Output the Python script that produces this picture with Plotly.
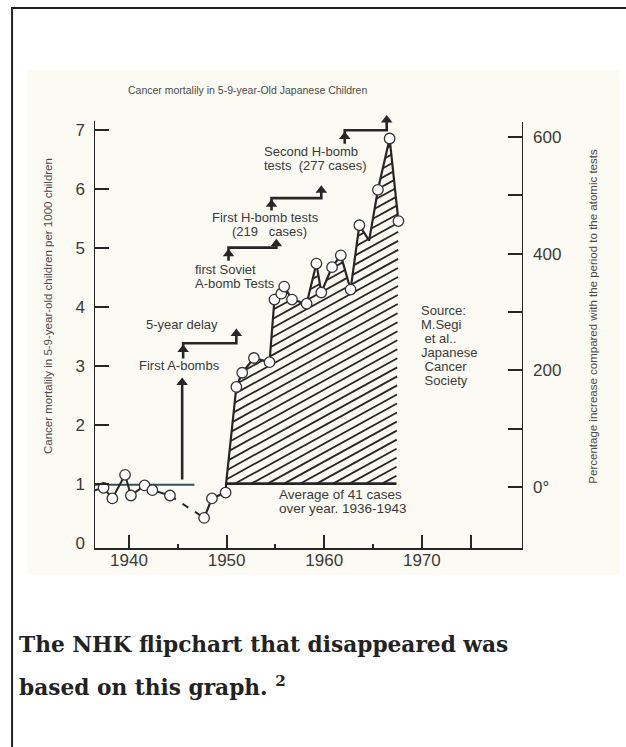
import plotly.graph_objects as go

# ---------------- data ----------------
years_pre = [1936.1, 1937.4, 1938.3, 1939.6, 1940.2, 1941.6, 1942.4, 1944.2]
rate_pre = [0.87, 0.93, 0.75, 1.15, 0.80, 0.97, 0.89, 0.80]

years_post = [1947.7, 1948.5, 1949.9, 1951.0, 1951.6, 1952.8, 1954.4, 1954.9, 1955.6,
              1955.9, 1956.7, 1958.2, 1959.2, 1959.7, 1960.8, 1961.7, 1962.7, 1963.6,
              1964.6, 1965.5, 1966.7, 1967.6]
rate_post = [0.42, 0.75, 0.85, 2.64, 2.88, 3.13, 3.06, 4.12, 4.22,
             4.34, 4.12, 4.05, 4.73, 4.24, 4.67, 4.87, 4.29, 5.38,
             5.12, 5.98, 6.85, 5.45]
marked_post = [True] * len(years_post)
marked_post[years_post.index(1964.6)] = False

baseline = 1.0            # average of 1936-1943
baseline_pre_end = 1946.7
hatch_start = 1949.95
hatch_end = 1967.4

# step arrows: (x_start, x_end, stem_bottom, level, tip)
step_arrows = [
    (1945.55, 1951.0, 3.12, 3.38, 3.65),
    (1950.2, 1955.1, 4.78, 5.00, 5.17),
    (1954.6, 1959.7, 5.63, 5.84, 6.08),
    (1962.1, 1966.4, 6.76, 6.99, 7.27),
]
abomb_arrow = (1945.45, 1.07, 2.82)

x_ticks = [1940, 1950, 1960, 1970, 1975]
x_labels = ["1940", "1950", "1960", "1970", ""]
x_minor = [1945, 1955, 1965]
y_labels = [0, 1, 2, 3, 4, 5, 6, 7]
y_tick_marks = [1, 2, 3, 4, 5, 6, 7]
pct_ticks = [0, 100, 200, 300, 400, 500, 600]
pct_labels = ["0°", "", "200", "", "400", "", "600"]
pct_zero = 0.94
pct_unit = 0.0099

source_lines = ["Source:", "M.Segi", "\u00a0et al..", "Japanese", "\u00a0Cancer", "\u00a0Society"]

# ---------------- layout geometry ----------------
W, H = 626, 747
L, R, T, B = 94, 523.3, 109, 548
XR = [1936.42, 1980.36]
YR = [-0.09, 7.35]
LEFT_TOP = 7.15
RIGHT_TOP = 7.13

def px(p):
    return (p - L) / (R - L)

def py(p):
    return (B - p) / (B - T)

INK = "#262626"
TXT = "#3a3a3a"
FONT = "Liberation Sans"

fig = go.Figure()

# ---------------- hatched area (lines clipped to the data polygon) ----------------
poly_x = [hatch_start] + years_post[3:] + [hatch_end]
poly_y = [baseline] + rate_post[3:] + [baseline]

def inside(x, y):
    n = len(poly_x)
    c = False
    j = n - 1
    for i in range(n):
        xi, yi, xj, yj = poly_x[i], poly_y[i], poly_x[j], poly_y[j]
        if (yi > y) != (yj > y):
            xc = xi + (y - yi) * (xj - xi) / (yj - yi)
            if x < xc:
                c = not c
        j = i
    return c

x_scale = (R - L) / (XR[1] - XR[0])      # px per year
y_scale = (B - T) / (YR[1] - YR[0])      # px per unit
slope_px = 0.55
spacing_px = 9.0
slope = slope_px * x_scale / y_scale     # units per year
spacing = spacing_px / y_scale
hxs, hys = [], []
step = 0.02
nx = int((max(poly_x) - hatch_start) / step) + 2
c = baseline - slope * (max(poly_x) - hatch_start)
while c < max(poly_y):
    run = None
    for k in range(nx + 1):
        x = hatch_start + k * step
        y = c + slope * (x - hatch_start)
        ins = inside(x, y)
        if ins and run is None:
            run = (x, y)
        if (not ins or k == nx) and run is not None:
            xe = x - step if not ins else x
            ye = c + slope * (xe - hatch_start)
            if xe > run[0]:
                hxs += [run[0], xe, None]
                hys += [run[1], ye, None]
            run = None
    c += spacing
fig.add_trace(go.Scatter(x=hxs, y=hys, mode="lines", line=dict(color=INK, width=1.8),
                         hoverinfo="skip", showlegend=False))

# baseline lines
fig.add_trace(go.Scatter(x=[XR[0], baseline_pre_end], y=[baseline - 0.02, baseline - 0.02],
                         mode="lines", line=dict(color="#34505e", width=2), showlegend=False))
fig.add_trace(go.Scatter(x=[hatch_start, hatch_end], y=[baseline, baseline],
                         mode="lines", line=dict(color=INK, width=2.8), showlegend=False))

# data lines
fig.add_trace(go.Scatter(x=years_pre, y=rate_pre, mode="lines",
                         line=dict(color=INK, width=2), showlegend=False))
fig.add_trace(go.Scatter(x=[years_pre[-1], years_post[0]], y=[rate_pre[-1], rate_post[0]],
                         mode="lines", line=dict(color=INK, width=2, dash="7px,8px"),
                         showlegend=False))
lx = years_post[:3] + [hatch_start] + years_post[3:]
ly = rate_post[:3] + [baseline] + rate_post[3:]
fig.add_trace(go.Scatter(x=lx, y=ly, mode="lines", line=dict(color=INK, width=2.2),
                         showlegend=False))

# arrows
arrow_line = dict(color=INK, width=2.6)
head_off = 0.105
heads_x, heads_y = [], []
ax0, ay0, ay1 = abomb_arrow
fig.add_trace(go.Scatter(x=[ax0, ax0], y=[ay0, ay1 - head_off], mode="lines",
                         line=arrow_line, showlegend=False))
heads_x.append(ax0); heads_y.append(ay1 - head_off)
for x0, x1, ys, yh, yt in step_arrows:
    fig.add_trace(go.Scatter(x=[x0, x0, x1, x1], y=[ys, yh, yh, yt - head_off],
                             mode="lines", line=arrow_line, showlegend=False))
    heads_x += [x0, x1]
    heads_y += [yh - head_off, yt - head_off]
fig.add_trace(go.Scatter(x=heads_x, y=heads_y, mode="markers",
                         marker=dict(symbol="triangle-up", size=10, color=INK,
                                     line=dict(width=0)),
                         showlegend=False, cliponaxis=False))

# markers
mx = years_pre + [x for x, m in zip(years_post, marked_post) if m]
my = rate_pre + [y for y, m in zip(rate_post, marked_post) if m]
fig.add_trace(go.Scatter(x=mx, y=my, mode="markers",
                         marker=dict(symbol="circle", size=10.5, color="white",
                                     line=dict(color="#333", width=1.3)),
                         showlegend=False, cliponaxis=False))

# invisible traces to activate the overlay axes
fig.add_trace(go.Scatter(x=[XR[0]], y=[0], yaxis="y2", mode="markers",
                         marker=dict(size=1, color="rgba(0,0,0,0)"), showlegend=False,
                         hoverinfo="skip"))
fig.add_trace(go.Scatter(x=[XR[0]], y=[0], yaxis="y3", mode="markers",
                         marker=dict(size=1, color="rgba(0,0,0,0)"), showlegend=False,
                         hoverinfo="skip"))

tickfont = dict(family=FONT, size=17, color=TXT)
pr = [(YR[0] - pct_zero) / pct_unit, (YR[1] - pct_zero) / pct_unit]

fig.update_layout(
    width=W, height=H,
    margin=dict(l=L, r=W - R, t=T, b=H - B, pad=0),
    paper_bgcolor="white", plot_bgcolor="rgba(0,0,0,0)",
    showlegend=False,
    xaxis=dict(range=XR, showgrid=False, zeroline=False, showline=True, linecolor=INK,
               linewidth=2, ticks="inside", ticklen=13, tickwidth=2, tickcolor=INK,
               tickmode="array", tickvals=x_ticks, ticktext=x_labels, tickfont=tickfont,
               ticklabelstandoff=-4,
               minor=dict(ticks="inside", ticklen=4, tickwidth=2, tickcolor=INK,
                          tickmode="array", tickvals=x_minor)),
    yaxis=dict(range=YR, showgrid=False, zeroline=False, showline=False, ticks="",
               tickmode="array", tickvals=y_labels, ticktext=[str(v) for v in y_labels],
               tickfont=tickfont, ticklabelstandoff=8),
    yaxis3=dict(range=YR, overlaying="y", side="left", showgrid=False, zeroline=False,
                showline=False, ticks="inside", ticklen=15, tickwidth=2, tickcolor=INK,
                tickmode="array", tickvals=y_tick_marks, showticklabels=False),
    yaxis2=dict(range=pr, overlaying="y", side="right", showgrid=False, zeroline=False,
                showline=False, ticks="inside", ticklen=15, tickwidth=2, tickcolor=INK,
                tickmode="array", tickvals=pct_ticks, ticktext=pct_labels,
                tickfont=tickfont, ticklabelstandoff=9),
)

shapes = [
    dict(type="rect", xref="paper", yref="paper", x0=px(27), x1=px(620), y0=py(575), y1=py(70),
         fillcolor="#fcfbf3", line=dict(width=0), layer="below"),
    dict(type="line", xref="paper", yref="paper", x0=px(11), x1=px(627), y0=py(8), y1=py(8),
         line=dict(color="#222", width=2)),
    dict(type="line", xref="paper", yref="paper", x0=px(12), x1=px(12), y0=py(7), y1=py(748),
         line=dict(color="#222", width=2)),
    dict(type="line", xref="x", yref="y", x0=XR[0], x1=XR[0], y0=YR[0], y1=LEFT_TOP,
         line=dict(color=INK, width=2)),
    dict(type="line", xref="x", yref="y", x0=XR[1], x1=XR[1], y0=YR[0], y1=RIGHT_TOP,
         line=dict(color=INK, width=2)),
]
fig.update_layout(shapes=shapes)

ann = []
def text(s, x, y, size=13, xanchor="center", angle=0, family=FONT, color=TXT):
    ann.append(dict(text=s, x=px(x), y=py(y), xref="paper", yref="paper", showarrow=False,
                    xanchor=xanchor, yanchor="middle", textangle=angle,
                    font=dict(family=family, size=size, color=color)))

text("Cancer mortalily in 5-9-year-Old Japanese Children", 248, 90, size=10.5, color="#4a4a4a")
text("First A-bombs", 179.5, 365)
text("5-year delay", 182.5, 324)
text("first Soviet", 193, 269, xanchor="left")
text("A-bomb Tests", 193, 283, xanchor="left")
text("First H-bomb tests", 266, 217)
text("(219\u00a0\u00a0\u00a0cases)", 270, 231)
text("Second H-bomb", 262, 151.5, xanchor="left")
text("tests\u00a0\u00a0(277 cases)", 262, 165.5, xanchor="left")
for i, line in enumerate(source_lines):
    text(line, 419, 310.5 + i * 14, xanchor="left")
text("Average of 41 cases", 277, 494, xanchor="left", size=13.5)
text("over year. 1936-1943", 277, 508, xanchor="left", size=13.5)
text("Cancer mortalily in 5-9-year-old children per 1000 children", 48, 306, size=11.5,
     angle=-90, color="#4a4a4a")
text("Percentage increase compared with the period to the atomic tests", 593, 316, size=11.5,
     angle=-90, color="#4a4a4a")
text("<b>The NHK flipchart that disappeared was</b>", 17, 644, size=21.7, xanchor="left",
     family="DejaVu Serif", color="#222")
text("<b>based on this graph. <sup>2</sup></b>", 17, 686, size=21.7, xanchor="left",
     family="DejaVu Serif", color="#222")
fig.update_layout(annotations=ann)

fig.write_html("out.html", config={"displayModeBar": False},
               post_script="document.body.style.margin='0';")
